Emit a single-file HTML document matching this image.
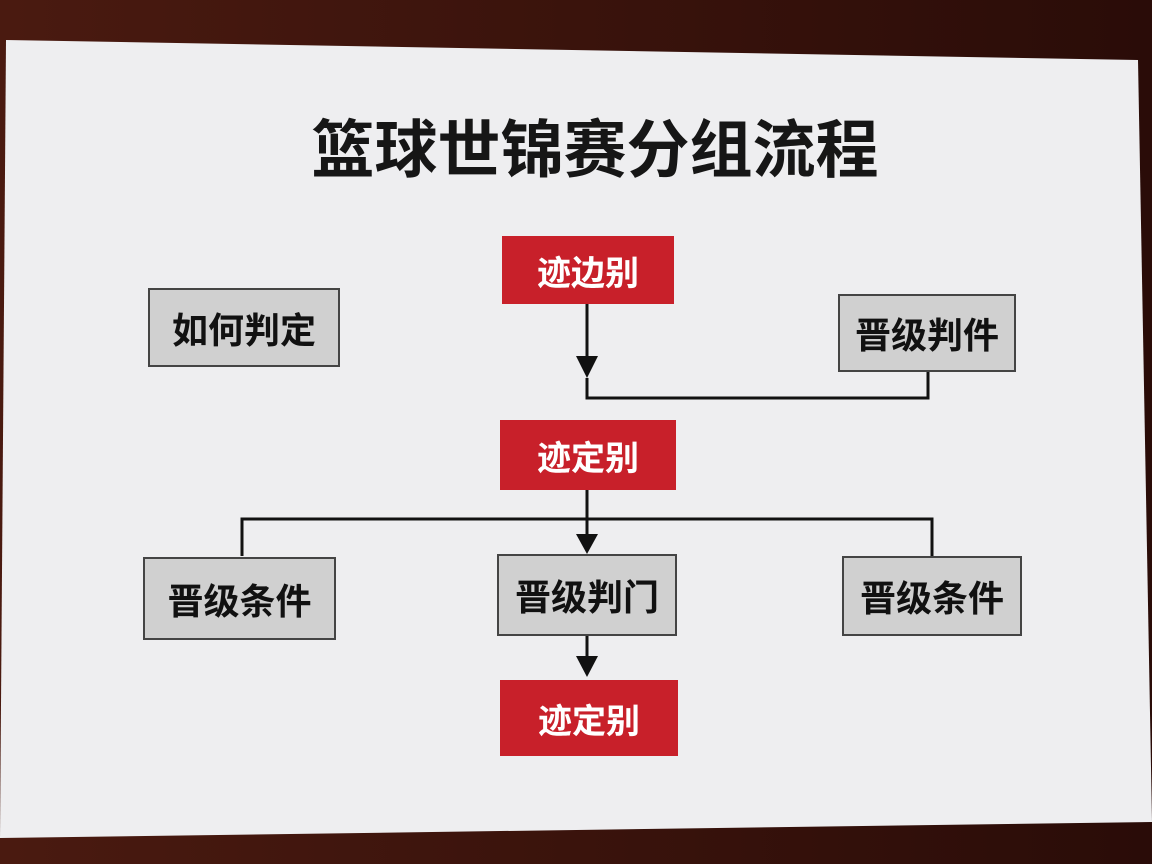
<!DOCTYPE html>
<html><head><meta charset="utf-8"><style>
body{margin:0;width:1152px;height:864px;overflow:hidden;background:#3a130c;font-family:"Liberation Sans","Noto Sans CJK SC",sans-serif}
.b{position:absolute;display:flex;align-items:center;justify-content:center;font-weight:bold;box-sizing:border-box}
.r{background:#c8202a;color:#fff;font-size:34px}
.g{background:#d0d0d0;border:2px solid #444;color:#111;font-size:36px}
</style></head><body>
<svg width="1152" height="864" style="position:absolute;left:0;top:0">
<defs><linearGradient id="bg" x1="0" y1="0" x2="1" y2="0"><stop offset="0" stop-color="#4a1a10"/><stop offset="1" stop-color="#2a0c08"/></linearGradient></defs>
<rect width="1152" height="864" fill="url(#bg)"/>
<polygon points="6,40 1138,60 1152,822 0,838" fill="#eeeef0"/>
<g stroke="#111" stroke-width="3" fill="none">
<line x1="587" y1="304" x2="587" y2="360"/>
<polyline points="587,378 587,398 928,398 928,372"/>
<line x1="587" y1="490" x2="587" y2="538"/>
<polyline points="242,556 242,519 932,519 932,556"/>
<line x1="587" y1="636" x2="587" y2="660"/>
</g>
<g fill="#111">
<polygon points="576,356 598,356 587,378"/>
<polygon points="576,534 598,534 587,554"/>
<polygon points="576,656 598,656 587,677"/>
</g>
</svg>
<div style="position:absolute;left:290px;top:100px;width:610px;text-align:center;font-size:63px;font-weight:bold;color:#161616">篮球世锦赛分组流程</div>
<div class="b r" style="left:502px;top:236px;width:172px;height:68px">迹边别</div>
<div class="b g" style="left:148px;top:288px;width:192px;height:79px">如何判定</div>
<div class="b g" style="left:838px;top:294px;width:178px;height:78px">晋级判件</div>
<div class="b r" style="left:500px;top:420px;width:176px;height:70px">迹定别</div>
<div class="b g" style="left:143px;top:557px;width:193px;height:83px">晋级条件</div>
<div class="b g" style="left:497px;top:554px;width:180px;height:82px">晋级判门</div>
<div class="b g" style="left:842px;top:556px;width:180px;height:80px">晋级条件</div>
<div class="b r" style="left:500px;top:680px;width:178px;height:76px">迹定别</div>
</body></html>
